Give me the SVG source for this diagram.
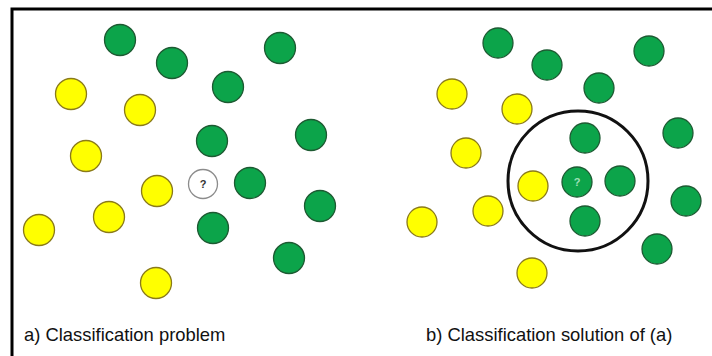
<svg xmlns="http://www.w3.org/2000/svg" width="712" height="356" viewBox="0 0 712 356">
<style>
.g{fill:#0ca44a;stroke:#1d5a32;stroke-width:1.3}
.y{fill:#ffff00;stroke:#8a7a1a;stroke-width:1.3}
.w{fill:#ffffff;stroke:#8c8c8c;stroke-width:1.3}
.q{font-family:"Liberation Sans",Arial,sans-serif;font-size:11px;font-weight:bold;text-anchor:middle}
.lbl{font-family:"Liberation Sans",Arial,sans-serif;font-size:18.4px;fill:#111}
</style>
<rect width="712" height="356" fill="#fff"/>
<polyline points="12,356 12,9 712,9" fill="none" stroke="#000" stroke-width="3"/>
<g id="panel-a">
<circle class="g" cx="120" cy="40" r="15.5"/>
<circle class="g" cx="172" cy="63" r="15.5"/>
<circle class="g" cx="280" cy="48" r="15.5"/>
<circle class="g" cx="228" cy="87" r="15.5"/>
<circle class="y" cx="71" cy="94" r="15.5"/>
<circle class="y" cx="140" cy="110" r="15.5"/>
<circle class="g" cx="212" cy="141" r="15.5"/>
<circle class="g" cx="311" cy="135" r="15.5"/>
<circle class="y" cx="86" cy="156" r="15.5"/>
<g id="unknown-a"><circle class="w" cx="203" cy="184" r="14.5"/><text class="q" x="203" y="188" fill="#333">?</text></g>
<circle class="g" cx="250" cy="183" r="15.5"/>
<circle class="y" cx="157" cy="191" r="15.5"/>
<circle class="g" cx="320" cy="206" r="15.5"/>
<circle class="y" cx="109" cy="217" r="15.5"/>
<circle class="y" cx="39" cy="230" r="15.5"/>
<circle class="g" cx="213" cy="228" r="15.5"/>
<circle class="g" cx="289" cy="258" r="15.5"/>
<circle class="y" cx="156" cy="283" r="15.5"/>
<text class="lbl" x="24" y="341">a) Classification problem</text>
</g>
<g id="panel-b">
<circle class="g" cx="498" cy="43" r="15"/>
<circle class="g" cx="547" cy="65" r="15"/>
<circle class="g" cx="649" cy="51" r="15"/>
<circle class="g" cx="599" cy="88" r="15"/>
<circle class="y" cx="452" cy="94" r="15"/>
<circle class="y" cx="517" cy="109" r="15"/>
<circle class="g" cx="585" cy="138" r="15"/>
<circle class="g" cx="678" cy="133" r="15"/>
<circle class="y" cx="466" cy="153" r="15"/>
<circle class="y" cx="533" cy="186" r="15"/>
<g id="unknown-b"><circle class="g" cx="577" cy="182" r="15"/><text class="q" x="577" y="186" fill="#9fe0b8">?</text></g>
<circle class="g" cx="620" cy="181" r="15"/>
<circle class="g" cx="686" cy="201" r="15"/>
<circle class="y" cx="488" cy="211" r="15"/>
<circle class="y" cx="422" cy="222" r="15"/>
<circle class="g" cx="585" cy="221" r="15"/>
<circle class="g" cx="657" cy="249" r="15"/>
<circle class="y" cx="532" cy="273" r="15"/>
<circle id="neighbourhood" cx="578" cy="181" r="70" fill="none" stroke="#111" stroke-width="3"/>
<text class="lbl" x="426" y="341">b) Classification solution of (a)</text>
</g>
</svg>
